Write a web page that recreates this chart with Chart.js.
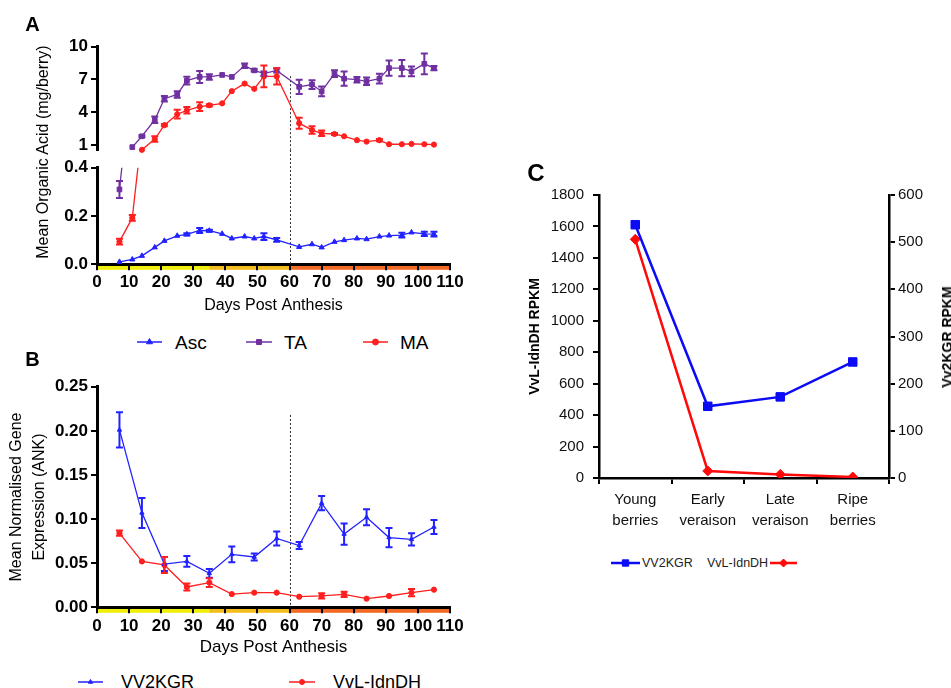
<!DOCTYPE html>
<html>
<head>
<meta charset="utf-8">
<script src="https://cdn.jsdelivr.net/npm/chart.js"></script>
<style>
  body { margin: 0; background: #fff; overflow: hidden; }
  #page { position: relative; width: 951px; height: 688px; overflow: hidden; background: #fff;
          font-family: "Liberation Sans", Arial, sans-serif; color: #000; }
  #page canvas { position: absolute; }
  .txt { position: absolute; white-space: nowrap; line-height: 1; }
</style>
</head>
<body>
<div id="page">
  <canvas id="aTop" width="470" height="133" style="left:0;top:30px"></canvas>
  <canvas id="aBot" width="470" height="175" style="left:0;top:150px"></canvas>
  <canvas id="bChart" width="470" height="300" style="left:0;top:360px"></canvas>
  <canvas id="cChart" width="431" height="400" style="left:520px;top:150px"></canvas>
</div>
<script>
// ---- panel A: organic acids (mg/berry) ----
const aDays = [7, 11, 14, 18, 21, 25, 28, 32, 35, 39, 42, 46, 49, 52, 56, 63, 67, 70, 74, 77, 81, 84, 88, 91, 95, 98, 102, 105];
const ascVals = [0.010, 0.020, 0.035, 0.070, 0.097, 0.118, 0.124, 0.140, 0.139, 0.126, 0.107, 0.115, 0.107, 0.115, 0.101, 0.072, 0.083, 0.070, 0.093, 0.100, 0.107, 0.104, 0.115, 0.119, 0.121, 0.132, 0.126, 0.125];
const ascErr  = [0, 0, 0, 0, 0, 0, 0.005, 0.010, 0.004, 0, 0, 0, 0, 0.014, 0.008, 0, 0, 0, 0, 0, 0, 0, 0, 0, 0.010, 0, 0.009, 0.010];
const taVals  = [0.31, 0.80, 1.79, 3.30, 5.23, 5.62, 6.89, 7.23, 7.23, 7.41, 7.23, 8.25, 7.83, 7.53, 7.83, 6.32, 6.53, 5.90, 7.53, 7.07, 6.98, 6.83, 7.07, 8.04, 8.04, 7.74, 8.43, 8.04];
const taErr   = [0.035, 0, 0.1, 0.3, 0.25, 0.3, 0.35, 0.55, 0.25, 0, 0, 0.2, 0.1, 0.2, 0.2, 0.65, 0.4, 0.45, 0.3, 0.65, 0.25, 0.35, 0.45, 0.7, 0.75, 0.45, 0.95, 0.2];
const maVals  = [0.094, 0.192, 0.55, 1.54, 2.81, 3.81, 4.17, 4.50, 4.63, 4.81, 5.92, 6.62, 6.14, 7.28, 7.28, 2.99, 2.36, 2.06, 2.00, 1.79, 1.43, 1.30, 1.43, 1.06, 1.06, 1.09, 1.06, 1.03];
const maErr   = [0.012, 0.012, 0, 0.25, 0.1, 0.4, 0.3, 0.4, 0.1, 0, 0, 0, 0, 1.0, 0.75, 0.5, 0.35, 0.25, 0.1, 0, 0, 0, 0.1, 0, 0, 0, 0, 0];
const axisBreak = 0.5;          // values above go in the upper segment
const topTicks = [1, 4, 7, 10];

// ---- panel B: gene expression (ANK) ----
const bDays = [7, 14, 21, 28, 35, 42, 49, 56, 63, 70, 77, 84, 91, 98, 105];
const kgrVals = [0.201, 0.107, 0.049, 0.052, 0.0385, 0.060, 0.057, 0.078, 0.070, 0.118, 0.083, 0.102, 0.079, 0.077, 0.091];
const kgrErr  = [0.020, 0.017, 0.008, 0.006, 0.005, 0.009, 0.004, 0.008, 0.004, 0.008, 0.012, 0.009, 0.011, 0.007, 0.008];
const idnVals = [0.084, 0.052, 0.048, 0.023, 0.028, 0.015, 0.0166, 0.0166, 0.012, 0.013, 0.0147, 0.0098, 0.0128, 0.0166, 0.020];
const idnErr  = [0.003, 0, 0.009, 0.004, 0.005, 0, 0, 0, 0, 0.003, 0.003, 0, 0, 0.004, 0];

// developmental stages under the day axis, veraison marker
const stageEdges = [0, 35, 60, 110];
const veraisonDay = 60;

// ---- panel C: RNA-seq RPKM ----
const cStages = [['Young', 'berries'], ['Early', 'veraison'], ['Late', 'veraison'], ['Ripe', 'berries']];
const vv2kgrRpkm = [537, 152, 172, 246];
const vvlIdndhRpkm = [1518, 45, 23, 6];

const blue = '#2222ff', purple = '#7030a0', red = '#ff1f1f';
const cBlue = '#0b0bf5', cRed = '#ff0a0a';
const stageColors = ['#f0ee0a', '#f3bd1e', '#f06a24'];

Chart.defaults.font.family = '"Liberation Sans", Arial, sans-serif';
Chart.defaults.color = '#000';

const errorBarPlugin = {
  id: 'errorBars',
  afterDatasetsDraw(chart) {
    const { ctx, chartArea: a } = chart;
    ctx.save();
    ctx.beginPath();
    ctx.rect(a.left - 10, a.top, a.right - a.left + 20, a.bottom - a.top);
    ctx.clip();
    chart.data.datasets.forEach((ds, i) => {
      if (!ds.errorBars) return;
      const meta = chart.getDatasetMeta(i);
      const ys = chart.scales[meta.yAxisID];
      ctx.strokeStyle = ds.borderColor;
      ctx.lineWidth = 2;
      meta.data.forEach((pt, j) => {
        const v = ds.data[j].y, e = ds.errorBars[j];
        if (v == null || !e) return;
        const hi = ys.getPixelForValue(v + e), lo = ys.getPixelForValue(v - e), x = pt.x;
        ctx.beginPath();
        ctx.moveTo(x, hi); ctx.lineTo(x, lo);
        ctx.moveTo(x - 3.5, hi); ctx.lineTo(x + 3.5, hi);
        ctx.moveTo(x - 3.5, lo); ctx.lineTo(x + 3.5, lo);
        ctx.stroke();
      });
    });
    ctx.restore();
  }
};

const stagePlugin = {
  id: 'stages',
  beforeDraw(chart) {
    const { ctx, chartArea: a } = chart, xs = chart.scales.x;
    for (let i = 0; i < stageEdges.length - 1; i++) {
      const x0 = xs.getPixelForValue(stageEdges[i]), x1 = xs.getPixelForValue(stageEdges[i + 1]);
      ctx.fillStyle = stageColors[i];
      ctx.fillRect(x0, a.bottom + 1, x1 - x0, 4.5);
    }
  }
};

const veraisonPlugin = {
  id: 'veraison',
  beforeDatasetsDraw(chart, args, o) {
    const ctx = chart.ctx;
    const x = Math.round(chart.scales.x.getPixelForValue(veraisonDay)) + 0.5;
    const y0 = o.from != null ? chart.scales.y.getPixelForValue(o.from) : 0;
    const y1 = chart.chartArea.bottom;
    ctx.save();
    ctx.strokeStyle = '#333';
    ctx.lineWidth = 1;
    ctx.setLineDash([2, 2]);
    ctx.beginPath(); ctx.moveTo(x, y0); ctx.lineTo(x, y1); ctx.stroke();
    ctx.restore();
  }
};

function series(days, vals, errs, color, style, radius, clip) {
  return {
    data: days.map((d, i) => ({ x: d, y: vals[i] })),
    errorBars: errs,
    borderColor: color, backgroundColor: color,
    borderWidth: 1.3, tension: 0,
    pointStyle: style, pointRadius: radius, pointBorderWidth: 1,
    clip: clip
  };
}

function baseOptions(padding) {
  return {
    animation: false, responsive: false, devicePixelRatio: 1, events: [],
    layout: { padding: padding },
    plugins: { legend: { display: false }, tooltip: { enabled: false } }
  };
}

const axisBorder = { display: true, color: '#000', width: 3 };
const axisGrid = { drawOnChartArea: false, drawTicks: true, tickLength: 6, color: '#000', lineWidth: 2 };
const boldTicks = { color: '#000', font: { size: 17, weight: 'bold' }, padding: 3 };

// A, upper segment of the broken axis
const topClip = { left: 8, right: 8, top: 8, bottom: 5 };
const aTopOpts = baseOptions({ left: 0, right: 20, top: 16.7, bottom: 12 });
aTopOpts.plugins.veraison = { from: 7.3 };
aTopOpts.scales = {
  x: { type: 'linear', min: 0, max: 110, display: false },
  y: {
    min: 0.55, max: 10,
    afterBuildTicks: s => { s.ticks = topTicks.map(v => ({ value: v })); },
    afterFit: s => { s.width = 97; },
    border: axisBorder, grid: axisGrid, ticks: boldTicks
  }
};
new Chart('aTop', {
  type: 'line',
  data: { datasets: [
    series(aDays, taVals.map(v => v >= axisBreak ? v : null), taErr, purple, 'rect', 3.3, topClip),
    series(aDays, maVals.map(v => v >= axisBreak ? v : null), maErr, red, 'circle', 2.6, topClip)
  ] },
  options: aTopOpts,
  plugins: [veraisonPlugin, errorBarPlugin]
});

// A, lower segment with the day axis
const botClip = { left: 8, right: 8, top: 0, bottom: 8 };
const aBotOpts = baseOptions({ left: 0, right: 20, top: 17.7, bottom: 0 });
aBotOpts.plugins.veraison = { from: null };
aBotOpts.scales = {
  x: {
    type: 'linear', min: 0, max: 110,
    afterFit: s => { s.height = 60.7; },
    border: axisBorder, grid: axisGrid,
    ticks: { color: '#000', font: { size: 17, weight: 'bold' }, padding: 1.5, stepSize: 10, autoSkip: false, maxRotation: 0 },
    title: { display: true, text: 'Days Post Anthesis', color: '#000', font: { size: 16 }, padding: { top: 0, bottom: 9.4 } }
  },
  y: {
    min: 0, max: 0.4,
    afterFit: s => { s.width = 97; },
    border: axisBorder, grid: axisGrid,
    ticks: Object.assign({}, boldTicks, { stepSize: 0.2, callback: v => v.toFixed(1) })
  }
};
new Chart('aBot', {
  type: 'line',
  data: { datasets: [
    series(aDays, ascVals, ascErr, blue, 'triangle', 3, botClip),
    series(aDays, taVals, taErr, purple, 'rect', 3.3, botClip),
    series(aDays, maVals, maErr, red, 'circle', 2.6, botClip)
  ] },
  options: aBotOpts,
  plugins: [stagePlugin, veraisonPlugin, errorBarPlugin]
});

// B
const bOpts = baseOptions({ left: 0, right: 20, top: 26.7, bottom: 0 });
bOpts.plugins.veraison = { from: 0.218 };
bOpts.scales = {
  x: {
    type: 'linear', min: 0, max: 110,
    afterFit: s => { s.height = 52.7; },
    border: axisBorder, grid: axisGrid,
    ticks: { color: '#000', font: { size: 17, weight: 'bold' }, padding: 3, stepSize: 10, autoSkip: false, maxRotation: 0 },
    title: { display: true, text: 'Days Post Anthesis', color: '#000', font: { size: 17 }, padding: { top: 0, bottom: 2.8 } }
  },
  y: {
    min: 0, max: 0.25,
    afterFit: s => { s.width = 97; },
    border: axisBorder, grid: axisGrid,
    ticks: Object.assign({}, boldTicks, { stepSize: 0.05, callback: v => v.toFixed(2) }),
    title: { display: true, text: ['Mean Normalised Gene', 'Expression (ANK)'], color: '#000',
             font: { size: 16, lineHeight: 1.4 }, padding: { top: 5.8, bottom: 0 } }
  }
};
new Chart('bChart', {
  type: 'line',
  data: { datasets: [
    series(bDays, kgrVals, kgrErr, blue, 'triangle', 2.5, botClip),
    series(bDays, idnVals, idnErr, red, 'circle', 2.6, botClip)
  ] },
  options: bOpts,
  plugins: [stagePlugin, veraisonPlugin, errorBarPlugin]
});

// C
const cBorder = { display: true, color: '#000', width: 2.5 };
const cGrid = { drawOnChartArea: false, drawTicks: true, tickLength: 6, color: '#000', lineWidth: 2 };
const cOpts = baseOptions({ left: 0, right: 0, top: 45, bottom: 0 });
cOpts.scales = {
  x: {
    offset: true,
    afterFit: s => { s.height = 72; },
    border: cBorder,
    grid: Object.assign({}, cGrid, { offset: true }),
    ticks: { color: '#111', font: { size: 15, lineHeight: 1.38 }, padding: 5.6, autoSkip: false, maxRotation: 0 }
  },
  yL: {
    position: 'left', min: 0, max: 1800,
    afterFit: s => { s.width = 79; },
    border: cBorder, grid: cGrid,
    ticks: { color: '#111', font: { size: 15 }, padding: 9, stepSize: 200, callback: v => String(v) },
    title: { display: true, text: 'VvL-IdnDH RPKM', color: '#000', font: { size: 14, weight: 'bold' }, padding: { top: 6.6, bottom: 0 } }
  },
  yR: {
    position: 'right', min: 0, max: 600,
    afterFit: s => { s.width = 62; },
    border: cBorder, grid: cGrid,
    ticks: { color: '#111', font: { size: 15 }, padding: 3, stepSize: 100, callback: v => String(v) }
  }
};
new Chart('cChart', {
  type: 'line',
  data: {
    labels: cStages,
    datasets: [
      { data: vv2kgrRpkm, yAxisID: 'yR', borderColor: cBlue, backgroundColor: cBlue, borderWidth: 2.5,
        tension: 0, pointStyle: 'rect', pointRadius: 6, pointBorderWidth: 1 },
      { data: vvlIdndhRpkm, yAxisID: 'yL', borderColor: cRed, backgroundColor: cRed, borderWidth: 2.5,
        tension: 0, pointStyle: 'rectRot', pointRadius: 5, pointBorderWidth: 1 }
    ]
  },
  options: cOpts
});

// ---- texts and legends ----
const page = document.getElementById('page');
function addText(text, x, y, css, mode) {
  const d = document.createElement('div');
  d.className = 'txt';
  d.textContent = text;
  d.style.cssText += css;
  d.style.left = x + 'px';
  d.style.top = y + 'px';
  d.style.transform = mode === 'center' ? 'translate(-50%,-50%)'
    : mode === 'vertical' ? 'translate(-50%,-50%) rotate(-90deg)' : 'translateY(-50%)';
  page.appendChild(d);
}
function addKey(x0, x1, cy, color, style, radius, lw) {
  const c = document.createElement('canvas');
  const w = x1 - x0 + 2, h = 16;
  c.width = w; c.height = h;
  c.style.left = (x0 - 1) + 'px';
  c.style.top = Math.round(cy - h / 2) + 'px';
  const g = c.getContext('2d');
  g.strokeStyle = color; g.fillStyle = color; g.lineWidth = lw;
  g.beginPath(); g.moveTo(1, h / 2); g.lineTo(w - 1, h / 2); g.stroke();
  g.lineWidth = 1;
  Chart.helpers.drawPoint(g, { pointStyle: style, radius: radius, borderWidth: 1, rotation: 0 }, w / 2, h / 2);
  page.appendChild(c);
}

addText('A', 32.5, 24, 'font-size:20px;font-weight:bold', 'center');
addText('B', 32.5, 359, 'font-size:20px;font-weight:bold', 'center');
addText('C', 536, 172.5, 'font-size:24px;font-weight:bold', 'center');
addText('Mean Organic Acid (mg/berry)', 43, 151.5, 'font-size:16px', 'vertical');
addText('Vv2KGR RPKM', 947, 337, 'font-size:14px;font-weight:bold', 'vertical');

addKey(137, 162, 342, blue, 'triangle', 3.5, 1.5);
addText('Asc', 175, 342, 'font-size:19px');
addKey(246, 272, 342, purple, 'rect', 3.5, 1.5);
addText('TA', 284, 342, 'font-size:19px');
addKey(363, 388, 342, red, 'circle', 3, 1.5);
addText('MA', 400, 342, 'font-size:19px');

addKey(78, 103, 682, blue, 'triangle', 2.5, 1.5);
addText('VV2KGR', 121, 682, 'font-size:18px');
addKey(289, 315, 682, red, 'circle', 2.5, 1.5);
addText('VvL-IdnDH', 333, 682, 'font-size:18px');

addKey(611, 640, 563, cBlue, 'rect', 4.5, 2.5);
addText('VV2KGR', 642, 563, 'font-size:12.5px;color:#222');
addText('VvL-IdnDH', 707, 563, 'font-size:12.5px;color:#222');
addKey(770, 797, 563, cRed, 'rectRot', 4, 2.5);
</script>
</body>
</html>
